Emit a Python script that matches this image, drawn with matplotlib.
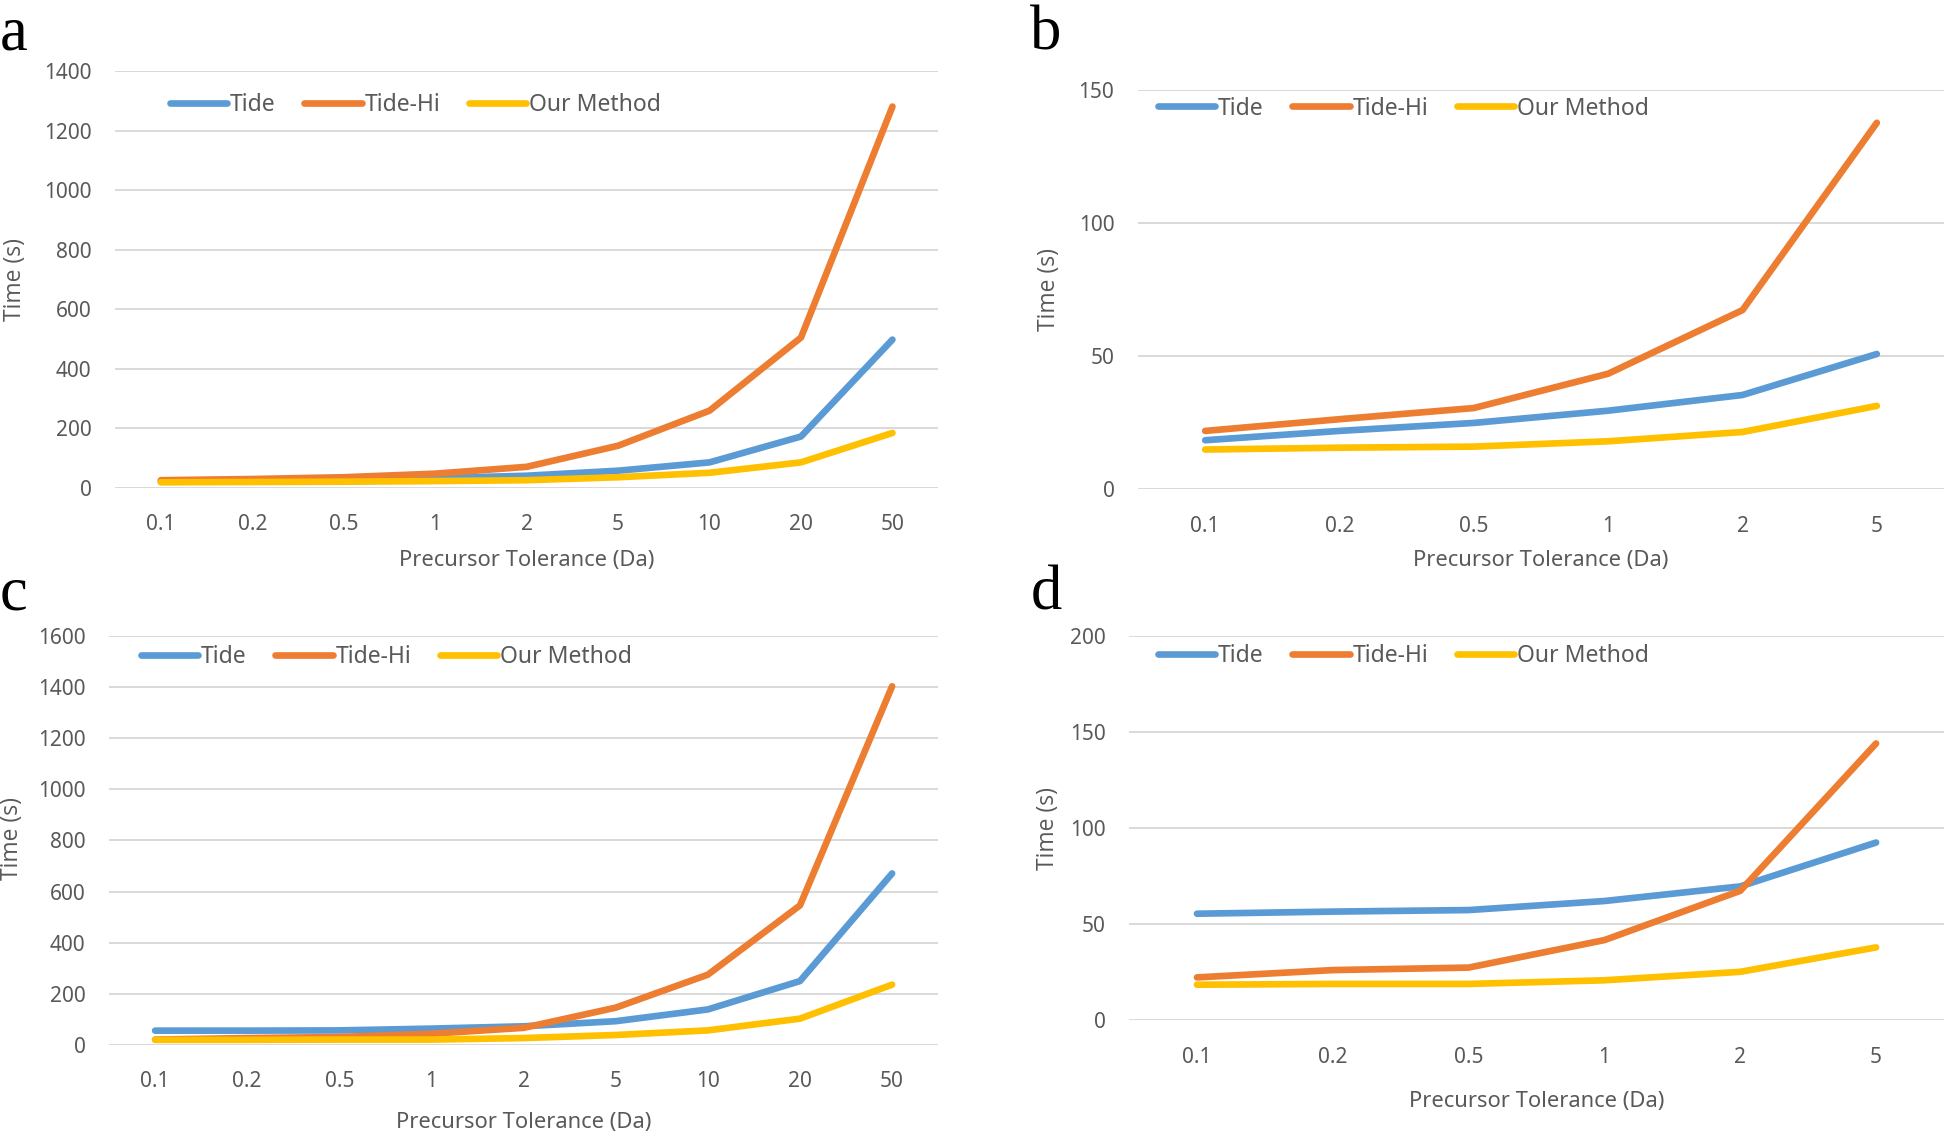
import matplotlib
matplotlib.use("Agg")
import matplotlib.pyplot as plt

plt.rcParams['font.family'] = ['Noto Sans', 'DejaVu Sans']

# tolerance categories
tol_ab = ['0.1', '0.2', '0.5', '1', '2', '5', '10', '20', '50']
tol_bd = ['0.1', '0.2', '0.5', '1', '2', '5']

# panel a
tide_a = [20, 23, 27, 32, 40, 57, 85, 172, 498]
tidehi_a = [25, 29, 35, 47, 70, 141, 259, 505, 1282]
ours_a = [18, 19, 20, 22, 25, 35, 50, 85, 184]

# panel b
tide_b = [18.5, 22, 25, 29.6, 35.5, 50.9]
tidehi_b = [22, 26.4, 30.6, 43.5, 67.4, 137.8]
ours_b = [15, 15.7, 16.1, 18.1, 21.6, 31.4]

# panel c
tide_c = [56, 56, 57, 64, 73, 93, 139, 250, 671]
tidehi_c = [21, 27, 31, 44, 67, 146, 275, 546, 1403]
ours_c = [20, 20, 21, 21, 27, 39, 57, 103, 236]

# panel d
tide_d = [55.5, 56.6, 57.4, 62.1, 69.7, 92.5]
tidehi_d = [22.4, 26.2, 27.5, 41.8, 67.4, 144]
ours_d = [18.6, 19, 19, 20.9, 25.3, 38]

colors = ['#5B9BD5', '#ED7D31', '#FFC000']
names = ['Tide', 'Tide-Hi', 'Our Method']
txt = '#595959'

fig = plt.figure(figsize=(19.44, 11.33), dpi=100)

panels = [
    # rect, cats, series, ymax, ystep, xlabel y, ylabel x, ylabel y, legend anchor, letter, letter pos
    ([0.0592, 0.5696, 0.4234, 0.3673], tol_ab, [tide_a, tidehi_a, ours_a], 1400, 200,
     -0.175, -0.121, 0.5, (0.0668, 0.9186), 'a', (0.0, 0.995)),
    ([0.5854, 0.5680, 0.4146, 0.3523], tol_bd, [tide_b, tidehi_b, ours_b], 150, 50,
     -0.178, -0.110, 0.502, (0.0248, 0.9544), 'b', (0.530, 0.995)),
    ([0.0561, 0.0777, 0.4265, 0.3610], tol_ab, [tide_c, tidehi_c, ours_c], 1600, 200,
     -0.189, -0.1165, 0.504, (0.0386, 0.9486), 'c', (0.0, 0.501)),
    ([0.5808, 0.0993, 0.4192, 0.3396], tol_bd, [tide_d, tidehi_d, ours_d], 200, 50,
     -0.210, -0.100, 0.50, (0.0356, 0.9480), 'd', (0.530, 0.501)),
]

for rect, cats, series, ymax, ystep, xly, ylx, yly, leg_xy, letter, lpos in panels:
    ax = fig.add_axes(rect)
    x = list(range(len(cats)))
    for vals, c, n in zip(series, colors, names):
        ax.plot(x, vals, color=c, lw=4.8, label=n, solid_capstyle='round',
                solid_joinstyle='round', clip_on=False, zorder=3)
    ax.set_xlim(-0.5, len(cats) - 0.5)
    ax.set_ylim(0, ymax)
    ax.set_yticks(range(0, ymax + 1, ystep))
    ax.set_xticks(x)
    ax.set_xticklabels(cats)
    ax.grid(axis='y', color='#D9D9D9', lw=1.4)
    ax.set_axisbelow(True)
    for s in ax.spines.values():
        s.set_visible(False)
    ax.tick_params(axis='both', length=0, labelsize=15, labelcolor=txt)
    ax.tick_params(axis='y', pad=17)
    ax.tick_params(axis='x', pad=19)
    ax.set_xlabel('Precursor Tolerance (Da)', fontsize=15.8, color=txt)
    ax.xaxis.set_label_coords(0.5, xly)
    ax.xaxis.label.set_va('center')
    ax.set_ylabel('Time (s)', fontsize=16.5, color=txt, family=['Open Sans', 'DejaVu Sans'])
    ax.yaxis.set_label_coords(ylx, yly)
    ax.yaxis.label.set_va('center')
    leg = ax.legend(loc='center left', bbox_to_anchor=leg_xy, ncol=3, frameon=False,
                    fontsize=16.5, handlelength=2.5, handletextpad=0.12,
                    columnspacing=1.25, borderpad=0, borderaxespad=0)
    for t in leg.get_texts():
        t.set_color(txt)
    fig.text(lpos[0], lpos[1], letter, fontsize=45, family='Liberation Serif',
             ha='left', va='top')

fig.savefig('out.png', dpi=100)
